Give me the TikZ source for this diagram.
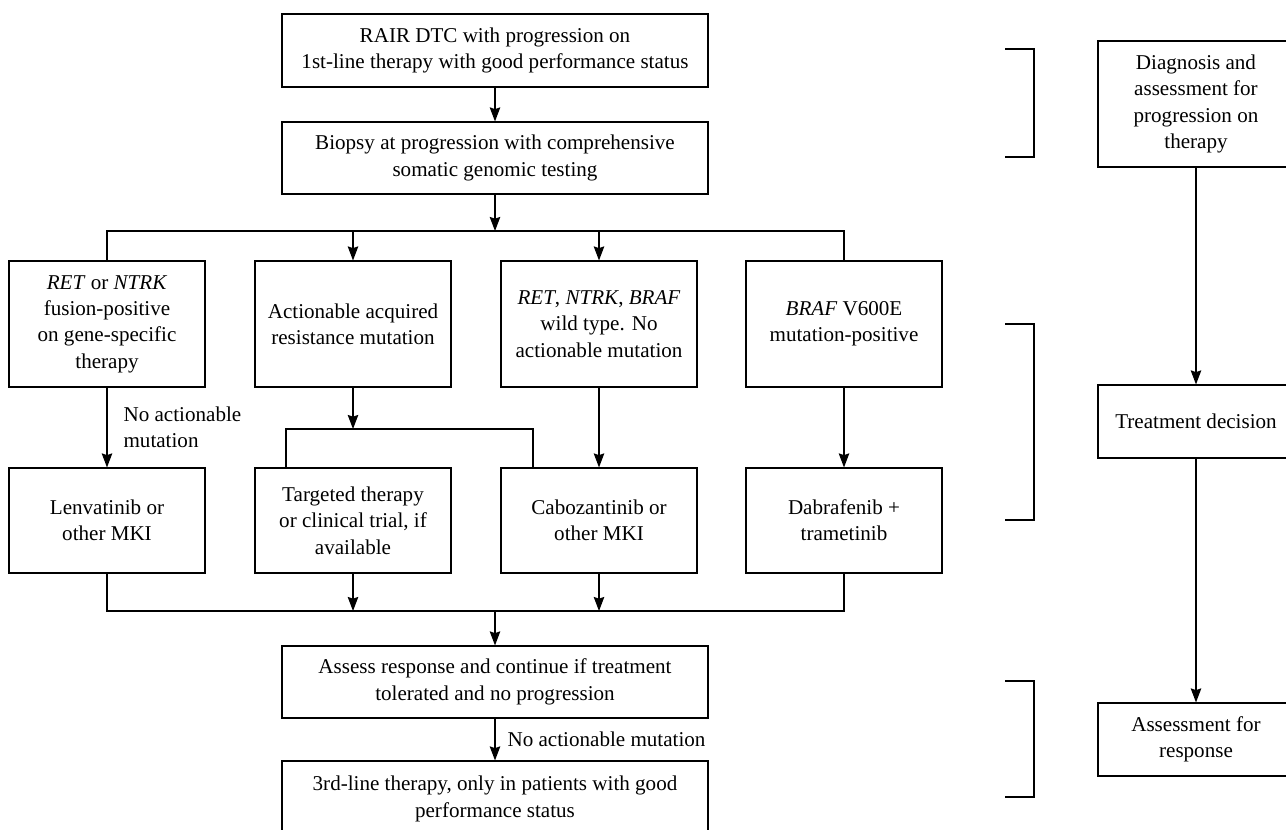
\documentclass[tikz,border=0pt]{standalone}
\usepackage{fontspec}
\setmainfont{Liberation Serif}
\usepackage{tikz}
\usetikzlibrary{arrows.meta, positioning, calc}
\tikzset{
  flowbox/.style={draw, line width=0.65pt, align=center, inner sep=2pt, font=\fontsize{12pt}{15pt}\selectfont},
  widebox/.style={flowbox, minimum width=8.52cm},
  colbox/.style={flowbox, minimum width=3.92cm},
  arr/.style={line width=0.65pt, -{Stealth[length=8pt, width=6pt, inset=1pt]}},
  link/.style={line width=0.65pt},
  lbl/.style={align=left, inner sep=2pt, font=\fontsize{12pt}{15pt}\selectfont},
}

\begin{document}
\begin{tikzpicture}[x=0.02cm, y=-0.02cm]
  \useasboundingbox (0,0) rectangle (1286,830);
  \clip (0,0) rectangle (1286,830);

  % Top boxes
  \node[widebox, minimum height=1.46cm] (rair) at (495,50.5) {RAIR DTC with progression on\\1st-line therapy with good performance status};
  \node[widebox, minimum height=1.44cm] (biopsy) at (495,158) {Biopsy at progression with comprehensive\\somatic genomic testing};

  % First row: test results
  \node[colbox, minimum height=2.52cm] (fusion) at (107,324) {\textit{RET} or \textit{NTRK}\\fusion-positive\\on gene-specific\\therapy};
  \node[colbox, minimum height=2.52cm] (acquired) at (353,324) {Actionable acquired\\resistance mutation};
  \node[colbox, minimum height=2.52cm] (wildtype) at (599,324) {\textit{RET}, \textit{NTRK}, \textit{BRAF}\\wild type. No\\actionable mutation};
  \node[colbox, minimum height=2.52cm] (braf) at (844,324) {\textit{BRAF} V600E\\mutation-positive};

  % Second row: therapies
  \node[colbox, minimum height=2.1cm] (lenva) at (107,520.5) {Lenvatinib or\\other MKI};
  \node[colbox, minimum height=2.1cm] (targeted) at (353,520.5) {Targeted therapy\\or clinical trial, if\\available};
  \node[colbox, minimum height=2.1cm] (cabo) at (599,520.5) {Cabozantinib or\\other MKI};
  \node[colbox, minimum height=2.1cm] (dabra) at (844,520.5) {Dabrafenib +\\trametinib};

  % Bottom boxes
  \node[widebox, minimum height=1.44cm] (assess) at (495,682) {Assess response and continue if treatment\\tolerated and no progression};
  \node[widebox, minimum height=1.52cm] (third) at (495,799) {3rd-line therapy, only in patients with good\\performance status};

  % Right column: stages
  \node[colbox, minimum height=2.52cm] (diag) at (1196,104) {Diagnosis and\\assessment for\\progression on\\therapy};
  \node[colbox, minimum height=1.46cm] (decision) at (1196,421.5) {Treatment decision};
  \node[colbox, minimum height=1.46cm] (response) at (1196,739.5) {Assessment for\\response};

  % Split after biopsy
  \coordinate (split) at (495,231);
  \draw[arr] (rair) -- (biopsy);
  \draw[arr] (biopsy) -- (split);
  \draw[link] (fusion.north) |- (split) -| (braf.north);
  \draw[arr] (split -| acquired.north) -- (acquired.north);
  \draw[arr] (split -| wildtype.north) -- (wildtype.north);

  % First row to second row
  \draw[arr] (fusion) -- node[lbl, right, xshift=0.25cm] {No actionable\\mutation} (lenva);
  \coordinate (asplit) at (353,429);
  \coordinate (aleft) at (286,429);
  \coordinate (aright) at (533,429);
  \draw[arr] (acquired) -- (asplit);
  \draw[link] (aleft |- targeted.north) -- (aleft) -- (aright) -- (aright |- cabo.north);
  \draw[arr] (wildtype) -- (cabo);
  \draw[arr] (braf) -- (dabra);

  % Merge into assessment
  \coordinate (merge) at (495,611);
  \draw[link] (lenva.south) |- (merge) -| (dabra.south);
  \draw[arr] (targeted) -- (targeted |- merge);
  \draw[arr] (cabo) -- (cabo |- merge);
  \draw[arr] (merge) -- (assess);
  \draw[arr] (assess) -- node[lbl, right, xshift=0.17cm] {No actionable mutation} (third);

  % Right column arrows
  \draw[arr] (diag) -- (decision);
  \draw[arr] (decision) -- (response);

  % Brackets
  \draw[link] (1005,49) -| (1034,157) -- (1005,157);
  \draw[link] (1005,324) -| (1034,520) -- (1005,520);
  \draw[link] (1005,681) -| (1034,797) -- (1005,797);
\end{tikzpicture}
\end{document}
